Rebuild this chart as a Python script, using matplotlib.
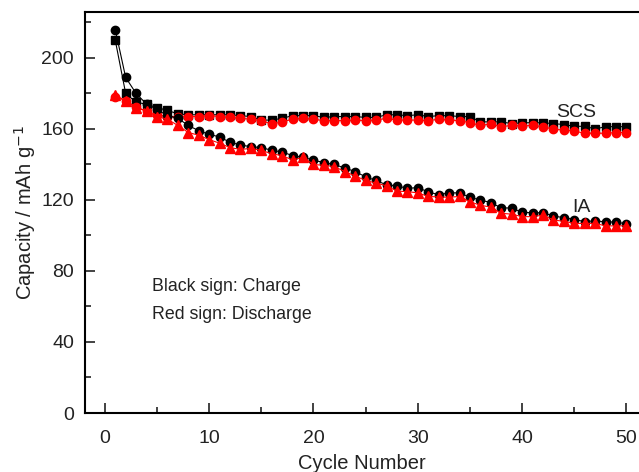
import numpy as np
from matplotlib import pyplot as plt
from matplotlib.ticker import MultipleLocator

plt.rcParams['font.family'] = ['Liberation Sans', 'DejaVu Sans']

cycles = np.arange(1, 51)

# SCS sample
scs_charge = [210, 180, 175, 174, 172, 170.5, 168.5, 168, 168, 168,
              168, 168, 167.5, 167, 165, 165, 166, 167.5, 167.5, 167.5,
              166.5, 167, 167, 167, 166.5, 166.5, 168, 168, 167.5, 168,
              167, 167.5, 167.5, 167, 167, 164, 164, 164, 163, 163.5,
              163.5, 163.5, 163, 162.5, 161.5, 161.5, 160, 161.3, 161.3, 161.3]
scs_discharge = [178, 176, 172.5, 170, 168, 167, 167, 167, 167, 167.5,
                 167, 166.5, 166, 165.5, 164.7, 162.8, 164, 165.5, 166, 165.5,
                 164.7, 164.7, 164.7, 165, 164.7, 165, 166, 165, 165, 165,
                 164.7, 165.5, 165, 164.7, 163.5, 162, 162.8, 161.3, 162, 161.7,
                 162, 161.3, 159.8, 159.4, 158.8, 157.6, 157.6, 157.6, 158, 158]

# IA sample
ia_charge = [216, 189, 180, 174, 171, 167.5, 166, 162, 159, 157,
             155.5, 152.5, 151, 150, 149.5, 148, 147, 145, 144, 142.5,
             141, 140, 138, 136, 133, 131, 128.5, 128, 126.5, 127,
             124.5, 123, 124, 124, 121.5, 120, 118.5, 115.5, 115.5, 113,
             112.8, 112.8, 111, 110, 109, 107.8, 108.3, 107.6, 107.6, 106.5]
ia_discharge = [179, 176, 172, 170, 167, 165.5, 162, 158, 156.5, 154,
                152, 149.5, 148.5, 149, 148, 146, 145, 142.5, 144, 140,
                139.5, 138.8, 136, 133.5, 131, 129.5, 128, 125, 124.7, 124,
                122, 121.7, 121.5, 122, 119, 117, 116, 112.5, 112, 110.6,
                110.6, 111.5, 108.7, 108, 106.8, 106.8, 106.8, 105.4, 105.4, 105.4]

fig = plt.figure(figsize=(6.39, 4.72), dpi=100)
ax = fig.add_axes([0.133, 0.125, 0.867, 0.85])

ms = 6
lw = 0.8
ax.plot(cycles, scs_charge, '-s', color='black', ms=ms, lw=lw, mec='black')
ax.plot(cycles, scs_discharge, '-o', color='red', ms=ms, lw=lw, mec='red')
ax.plot(cycles, ia_charge, '-o', color='black', ms=ms, lw=lw, mec='black')
ax.plot(cycles, ia_discharge, '-^', color='red', ms=ms + 1, lw=lw, mec='red')

ax.set_xlim(-1.9, 51.2)
ax.set_ylim(0, 226)
ax.xaxis.set_major_locator(MultipleLocator(10))
ax.xaxis.set_minor_locator(MultipleLocator(5))
ax.yaxis.set_major_locator(MultipleLocator(40))
ax.yaxis.set_minor_locator(MultipleLocator(20))
ax.tick_params(which='both', direction='in', top=False, right=False,
               labelsize=14, width=1.2, pad=8, colors='#222222')
ax.tick_params(axis='x', which='both', pad=12)
ax.tick_params(which='major', length=7)
ax.tick_params(which='minor', length=4)
for side in ['left', 'bottom', 'top']:
    ax.spines[side].set_linewidth(1.5)
ax.spines['right'].set_visible(False)

ax.set_xlabel('Cycle Number', fontsize=14.5, labelpad=5, color='#222222')
ax.set_ylabel('Capacity / mAh g$^{-1}$', fontsize=14.5, labelpad=2, color='#222222')

ax.text(43.3, 167, 'SCS', fontsize=14, color='#222222')
ax.text(44.8, 113, 'IA', fontsize=14, color='#222222')
ax.text(4.5, 69, 'Black sign: Charge', fontsize=12.8, color='#222222')
ax.text(4.5, 53, 'Red sign: Discharge', fontsize=12.8, color='#222222')

fig.savefig('out.png', dpi=100)
